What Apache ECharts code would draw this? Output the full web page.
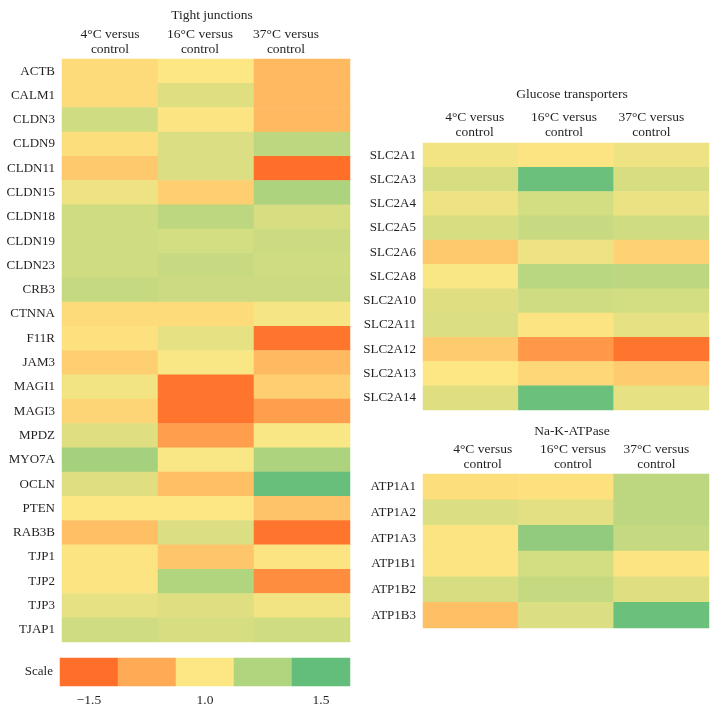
<!DOCTYPE html>
<html><head><meta charset="utf-8">
<script src="https://cdn.jsdelivr.net/npm/echarts@6/dist/echarts.min.js"></script>
<style>html,body{margin:0;padding:0;background:#fff}#c{width:718px;height:707px}</style>
</head><body><div id="c"></div>
<script>
const conditions = ['4°C versus\ncontrol', '16°C versus\ncontrol', '37°C versus\ncontrol'];

const tjGenes = ['ACTB','CALM1','CLDN3','CLDN9','CLDN11','CLDN15','CLDN18','CLDN19','CLDN23','CRB3','CTNNA','F11R','JAM3','MAGI1','MAGI3','MPDZ','MYO7A','OCLN','PTEN','RAB3B','TJP1','TJP2','TJP3','TJAP1'];
// columns: 4°C, 16°C, 37°C (colour-scale values, -2 = red/orange ... 2 = green)
const tj4  = [-0.2,-0.2, 0.6,-0.15,-0.5, 0.2, 0.6, 0.6, 0.6, 0.75,-0.2,-0.1,-0.4, 0.15,-0.3, 0.4, 1.15, 0.4, 0.0,-0.65,-0.05,-0.05, 0.3, 0.6];
const tj16 = [ 0.0, 0.4,-0.05,0.45, 0.45,-0.4, 0.85,0.55,0.7, 0.65,-0.2, 0.3, 0.05,-1.9,-1.9,-1.2, 0.05,-0.65,0.0, 0.45,-0.55, 1.0, 0.4, 0.5];
const tj37 = [-0.75,-0.75,-0.75,0.85,-2.0, 1.05, 0.5, 0.65,0.6, 0.65, 0.1,-1.9,-0.75,-0.4,-1.2, 0.05, 1.05, 1.95,-0.6,-1.9,-0.05,-1.5, 0.15, 0.6];

const glutGenes = ['SLC2A1','SLC2A3','SLC2A4','SLC2A5','SLC2A6','SLC2A8','SLC2A10','SLC2A11','SLC2A12','SLC2A13','SLC2A14'];
const glut4  = [0.15, 0.5, 0.2, 0.5,-0.5, 0.05, 0.4, 0.45,-0.45, 0.0, 0.4];
const glut16 = [-0.05,1.9, 0.55,0.7, 0.2, 0.9, 0.6,-0.05,-1.3,-0.25, 1.9];
const glut37 = [0.2, 0.5, 0.25,0.6,-0.35,0.85,0.55,0.3,-1.9,-0.45, 0.3];

const atpGenes = ['ATP1A1','ATP1A2','ATP1A3','ATP1B1','ATP1B2','ATP1B3'];
const atp4  = [-0.15, 0.45,-0.05,-0.05, 0.5,-0.65];
const atp16 = [-0.1, 0.35, 1.4, 0.55, 0.75, 0.45];
const atp37 = [0.85, 0.85, 0.75,-0.05, 0.4, 1.9];

const scaleLabels = ['−1.5', '', '1.0', '', '1.5'];
const scaleValues = [-2, -1, 0, 1, 2];

const scaleColors = ['#FF6F29','#FFAA55','#FDE784','#B1D47F','#63BE7B'];

function cells(cols) {
  const out = [];
  cols.forEach((col, ci) => col.forEach((v, ri) => out.push([ci, ri, v])));
  return out;
}

const FONT = 'Liberation Serif';
const TXT = '#231F20';
const HFS = 13.5;
const HLH = 15;

const chart = echarts.init(document.getElementById('c'), null, {renderer: 'canvas'});

// header label horizontal shifts (px) to follow the reference placement
function headerAxis(gi, shifts, margin) {
  const rich = {};
  shifts.forEach((dx, i) => {
    rich['h' + i] = {
      fontFamily: FONT, fontSize: HFS, color: TXT, lineHeight: HLH,
      padding: [0, dx < 0 ? -2 * dx : 0, 0, dx > 0 ? 2 * dx : 0]
    };
  });
  return {
    gridIndex: gi, type: 'category', data: conditions, position: 'top',
    axisLine: {show: false}, axisTick: {show: false}, splitLine: {show: false},
    axisLabel: {
      interval: 0, margin: margin, lineHeight: HLH,
      formatter: (v, idx) => v.split('\n').map(s => '{h' + idx + '|' + s + '}').join('\n'),
      rich: rich
    }
  };
}
function yAx(gi, labels) {
  return {
    gridIndex: gi, type: 'category', data: labels, inverse: true,
    axisLine: {show: false}, axisTick: {show: false}, splitLine: {show: false},
    axisLabel: {fontFamily: FONT, fontSize: 13, color: TXT, margin: 7, interval: 0}
  };
}

const titleStyle = {fontFamily: FONT, fontSize: HFS, fontWeight: 'normal', color: TXT};

const option = {
  backgroundColor: '#fff',
  animation: false,
  title: [
    {text: 'Tight junctions', left: 207, top: 3, textAlign: 'center', textStyle: titleStyle},
    {text: 'Glucose transporters', left: 567, top: 82, textAlign: 'center', textStyle: titleStyle},
    {text: 'Na-K-ATPase', left: 567, top: 419, textAlign: 'center', textStyle: titleStyle}
  ],
  grid: [
    {left: 62, top: 59, width: 288, height: 583},
    {left: 423, top: 143, width: 286, height: 267},
    {left: 423, top: 474, width: 286, height: 154},
    {left: 60, top: 658, width: 290, height: 28}
  ],
  xAxis: [
    headerAxis(0, [0, -6, -16], 2),
    headerAxis(1, [4, -2, -10], 3),
    headerAxis(2, [12, 7, -5], 2),
    {
      gridIndex: 3, type: 'category', data: scaleLabels, position: 'bottom',
      axisLine: {show: false}, axisTick: {show: false}, splitLine: {show: false},
      axisLabel: {fontFamily: FONT, fontSize: HFS, color: TXT, margin: 7, interval: 0}
    }
  ],
  yAxis: [
    yAx(0, tjGenes),
    yAx(1, glutGenes),
    yAx(2, atpGenes),
    yAx(3, ['Scale'])
  ],
  visualMap: {
    type: 'continuous', min: -2, max: 2, show: false,
    seriesIndex: [0, 1, 2, 3],
    inRange: {color: scaleColors}
  },
  series: [
    {type: 'heatmap', xAxisIndex: 0, yAxisIndex: 0, data: cells([tj4, tj16, tj37])},
    {type: 'heatmap', xAxisIndex: 1, yAxisIndex: 1, data: cells([glut4, glut16, glut37])},
    {type: 'heatmap', xAxisIndex: 2, yAxisIndex: 2, data: cells([atp4, atp16, atp37])},
    {type: 'heatmap', xAxisIndex: 3, yAxisIndex: 3, data: scaleValues.map((v, i) => [i, 0, v])}
  ]
};
chart.setOption(option);
</script>
</body></html>
